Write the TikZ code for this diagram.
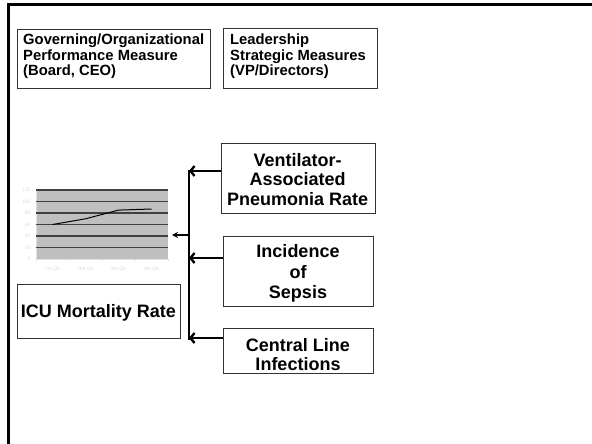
\documentclass[tikz,border=0pt]{standalone}
\usepackage{fontspec}
\setmainfont{Liberation Sans}
\usetikzlibrary{arrows.meta}
\begin{document}
\begin{tikzpicture}[x=1pt,y=-1pt,
  box/.style={draw=black!80, line width=0.8pt, inner sep=0pt, anchor=north west},
  % text nodes are placed by the baseline of their last line
  toptext/.style={inner sep=0pt, anchor=base west, align=left,
                  font=\bfseries\fontsize{14.8}{15.3}\selectfont},
  mtext/.style={inner sep=0pt, anchor=base, align=center,
                font=\bfseries\fontsize{18}{19.7}\selectfont},
  feed/.style={line width=2.4pt, -{Straight Barb[length=4pt,width=10pt]}},
  grid/.style={black!75, line width=1.4pt},
  faint/.style={black!14, font=\fontsize{5}{6}\selectfont}]
\useasboundingbox (0,0) rectangle (592,444);

% page frame: left and top rules only
\draw[line width=3pt] (8.5,444) -- (8.5,4.5) -- (592,4.5);

% heading boxes
\node[box, minimum width=193, minimum height=59] (gov) at (17,29) {};
\node[toptext] (govtext) at (23,75.6)
  {Governing/Organizational\\Performance Measure\\(Board, CEO)};
\node[box, minimum width=154, minimum height=60] (lead) at (223,28) {};
\node[toptext] (leadtext) at (230,75.6)
  {Leadership\\Strategic Measures\\(VP/Directors)};

% driver measures
\node[box, minimum width=154, minimum height=70] (vap) at (220.7,143.3) {};
\node[mtext] (vaptext) at (297.7,205.4)
  {Ventilator-\\Associated\\Pneumonia Rate};
\node[box, minimum width=150, minimum height=70] (sepsis) at (223,236) {};
\node[mtext, font=\bfseries\fontsize{18}{20.3}\selectfont] (sepsistext) at (298,298.3)
  {Incidence\\of\\Sepsis};
\node[box, minimum width=150, minimum height=45] (cli) at (223,328) {};
\node[mtext, font=\bfseries\fontsize{18}{18.5}\selectfont] (clitext) at (298,370)
  {Central Line\\Infections};

% outcome measure
\node[box, minimum width=163, minimum height=54] (icu) at (17,284) {};
\node[mtext] (icutext) at (98.5,317.7) {ICU Mortality Rate};

% small line chart of the outcome
\fill[black!25] (36,190) rectangle (168,259);
\draw[black!12, line width=0.6pt] (36,190) -- (36,259) -- (168,259);
\foreach \v in {0,20,...,120}{
  \node[faint, anchor=east] at (34,{259-\v*0.575}) {\v};
}
\foreach \v in {20,40,...,120}{
  \draw[grid] (36,{259-\v*0.575}) -- (168,{259-\v*0.575});
}
\foreach \q/\lbl in {0/1st Qtr,1/2nd Qtr,2/3rd Qtr,3/4th Qtr}{
  \node[faint] at ({52.5+33*\q},269) {\lbl};
  \draw[black!12, line width=0.6pt] ({36+33*\q},259) -- ({36+33*\q},261);
}
\draw[black!12, line width=0.6pt] (168,259) -- (168,261);
\draw[line width=1pt] (52.5,224.5) -- (85.5,218.8) -- (118.5,210.1) -- (151.5,209);
\coordinate (chart) at (172,235);

% collecting bracket and arrows
\coordinate (b1) at (189,171);
\coordinate (b2) at (189,258);
\coordinate (b3) at (189,338);
\coordinate (bc) at (189,235);
\draw[line width=2.4pt] (189,169.5) -- (189,339.5);
\draw[feed] (vap.west |- b1) -- (b1);
\draw[feed] (sepsis.west |- b2) -- (b2);
\draw[feed] (cli.west |- b3) -- (b3);
\draw[line width=2pt, -{Stealth[length=6pt,width=6pt]}] (bc) -- (chart);
\end{tikzpicture}
\end{document}
